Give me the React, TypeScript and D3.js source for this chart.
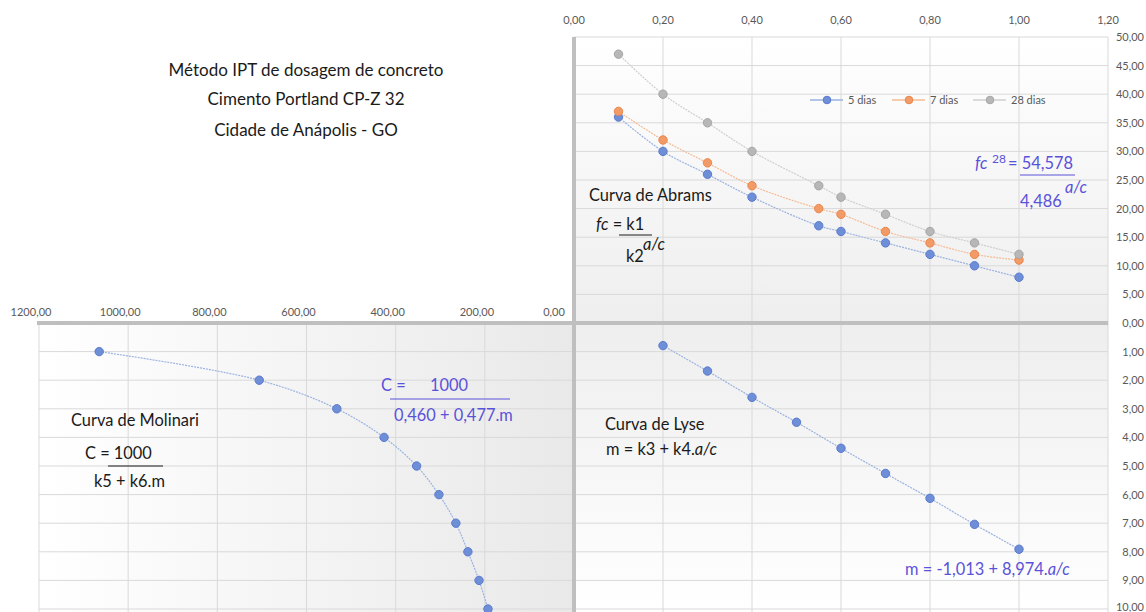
import React from 'react';
import * as d3 from 'd3';

// a/c ratios of the Abrams curves
const acValues = [0.1, 0.2, 0.3, 0.4, 0.55, 0.6, 0.7, 0.8, 0.9, 1.0];
const fc5 = [36, 30, 26, 22, 17, 16, 14, 12, 10, 8];
const fc7 = [37, 32, 28, 24, 20, 19, 16, 14, 12, 11];
const fc28 = [47, 40, 35, 30, 24, 22, 19, 16, 14, 12];

// Lyse: m vs a/c
const lyseAc = [0.2, 0.3, 0.4, 0.5, 0.6, 0.7, 0.8, 0.9, 1.0];
const lyseM = [0.79, 1.68, 2.6, 3.47, 4.38, 5.26, 6.13, 7.04, 7.91];

// Molinari: C vs m
const moliM = [1, 2, 3, 4, 5, 6, 7, 8, 9, 10];
const moliC = [1065, 706, 532, 426, 353, 303, 265, 238, 213, 193];

const acTicks = [0, 0.2, 0.4, 0.6, 0.8, 1.0, 1.2];
const fcTicks = [5, 10, 15, 20, 25, 30, 35, 40, 45, 50];
const mTicks = [0, 1, 2, 3, 4, 5, 6, 7, 8, 9, 10];
const cTicks = [0, 200, 400, 600, 800, 1000, 1200];

const titleLines = ['Método IPT de dosagem de concreto', 'Cimento Portland CP-Z 32', 'Cidade de Anápolis - GO'];

const series = [
  { name: '5 dias', values: fc5, line: '#9bb3e0', fill: '#6e8ed8', stroke: '#5a7bcc' },
  { name: '7 dias', values: fc7, line: '#f5bb95', fill: '#f29b66', stroke: '#e8864c' },
  { name: '28 dias', values: fc28, line: '#cfcfcf', fill: '#b7b7b7', stroke: '#a5a5a5' },
];

const W = 1146;
const H = 612;
const FONT = 'Lato, "Open Sans", sans-serif';
const BLUE = '#5a52d9';
const GRID = '#d9d9d9';
const LABEL = '#595959';
const FS = 16.4;

const fmt = (v: number) => d3.format('.2f')(v).replace('.', ',');

export default function App() {
  const x = d3.scaleLinear().domain([0, 1.2]).range([574, 1108]);
  const yFc = d3.scaleLinear().domain([0, 50]).range([323, 37]);
  const yM = d3.scaleLinear().domain([0, 10]).range([323, 609]);
  const xC = d3.scaleLinear().domain([0, 1200]).range([574, 39]);

  const curve = d3.line<[number, number]>().curve(d3.curveCatmullRom.alpha(0.5));

  const dot = (cx: number, cy: number, s: any, key: any) => (
    <circle key={key} cx={cx} cy={cy} r={4.2} fill={s.fill} stroke={s.stroke} strokeWidth={1} />
  );

  const blueS = series[0];

  return (
    <svg width={W} height={H} style={{ position: 'absolute', left: 0, top: 0, background: '#fff' }} fontFamily={FONT}>
      <defs>
        <linearGradient id="gTop" x1="0" y1="0" x2="0" y2="1">
          <stop offset="0" stopColor="#ffffff" />
          <stop offset="1" stopColor="#eeeeee" />
        </linearGradient>
        <linearGradient id="gBot" x1="0" y1="0" x2="0" y2="1">
          <stop offset="0" stopColor="#eeeeee" />
          <stop offset="1" stopColor="#ffffff" />
        </linearGradient>
        <linearGradient id="gLeft" x1="0" y1="0" x2="1" y2="0">
          <stop offset="0" stopColor="#ffffff" />
          <stop offset="1" stopColor="#e9e9e9" />
        </linearGradient>
      </defs>

      {/* backgrounds */}
      <rect x={x(0)} y={yFc(50)} width={x(1.2) - x(0)} height={yFc(0) - yFc(50)} fill="url(#gTop)" />
      <rect x={x(0)} y={yM(0)} width={x(1.2) - x(0)} height={H - yM(0)} fill="url(#gBot)" />
      <rect x={xC(1200)} y={yM(0)} width={xC(0) - xC(1200)} height={H - yM(0)} fill="url(#gLeft)" />

      {/* grid top-right */}
      {acTicks.slice(1).map((t) => (
        <line key={'tv' + t} x1={x(t)} x2={x(t)} y1={yFc(50)} y2={yFc(0)} stroke={GRID} />
      ))}
      {fcTicks.map((t) => (
        <line key={'th' + t} x1={x(0)} x2={x(1.2)} y1={yFc(t)} y2={yFc(t)} stroke={GRID} />
      ))}
      {/* grid bottom-right */}
      {acTicks.slice(1).map((t) => (
        <line key={'bv' + t} x1={x(t)} x2={x(t)} y1={yM(0)} y2={H} stroke={GRID} />
      ))}
      {mTicks.slice(1).map((t) => (
        <line key={'bh' + t} x1={x(0)} x2={x(1.2)} y1={yM(t)} y2={yM(t)} stroke={GRID} />
      ))}
      {/* grid bottom-left */}
      {cTicks.slice(1).map((t) => (
        <line key={'lv' + t} x1={xC(t)} x2={xC(t)} y1={yM(0)} y2={H} stroke={GRID} />
      ))}
      {mTicks.slice(1).map((t) => (
        <line key={'lh' + t} x1={xC(1200)} x2={xC(0)} y1={yM(t)} y2={yM(t)} stroke={GRID} />
      ))}

      {/* thick cross axes */}
      <line x1={xC(1200) - 2} x2={x(1.2)} y1={yM(0)} y2={yM(0)} stroke="#bfbfbf" strokeWidth={4} />
      <line x1={x(0)} x2={x(0)} y1={yFc(50)} y2={H} stroke="#bfbfbf" strokeWidth={4} />

      {/* axis labels */}
      {acTicks.map((t) => (
        <text key={'al' + t} x={x(t)} y={24} textAnchor="middle" fontSize={11} fill={LABEL}>{fmt(t)}</text>
      ))}
      {fcTicks.map((t) => (
        <text key={'fl' + t} x={1144} y={yFc(t) + 4} textAnchor="end" fontSize={11} fill={LABEL}>{fmt(t)}</text>
      ))}
      {mTicks.map((t) => (
        <text key={'ml' + t} x={1144} y={Math.min(yM(t) + 4, 611)} textAnchor="end" fontSize={11} fill={LABEL}>{fmt(t)}</text>
      ))}
      {cTicks.map((t) => (
        <text key={'cl' + t} x={xC(t) - (t === 0 ? 20 : 8)} y={316} textAnchor="middle" fontSize={11} fill={LABEL}>{fmt(t)}</text>
      ))}

      {/* Abrams curves */}
      {series.map((s) => (
        <g key={s.name}>
          <path
            d={curve(acValues.map((a, i) => [x(a), yFc(s.values[i])]))!}
            fill="none"
            stroke={s.line}
            strokeWidth={1.2}
            strokeDasharray="2 1"
          />
          {acValues.map((a, i) => dot(x(a), yFc(s.values[i]), s, i))}
        </g>
      ))}

      {/* legend */}
      {series.map((s, i) => {
        const lx = [810, 892, 973][i];
        return (
          <g key={'lg' + s.name}>
            <line x1={lx} x2={lx + 33} y1={100} y2={100} stroke={s.line} strokeWidth={1.5} />
            <circle cx={lx + 17} cy={100} r={3.8} fill={s.fill} stroke={s.stroke} />
            <text x={lx + 38} y={104} fontSize={11} fill={LABEL}>{s.name}</text>
          </g>
        );
      })}

      {/* Lyse */}
      <path
        d={curve(lyseAc.map((a, i) => [x(a), yM(lyseM[i])]))!}
        fill="none"
        stroke={blueS.line}
        strokeWidth={1.2}
        strokeDasharray="2 1"
      />
      {lyseAc.map((a, i) => dot(x(a), yM(lyseM[i]), blueS, 'ly' + i))}

      {/* Molinari */}
      <path
        d={curve(moliM.map((m, i) => [xC(moliC[i]), yM(m)]))!}
        fill="none"
        stroke={blueS.line}
        strokeWidth={1.2}
        strokeDasharray="2 1"
      />
      {moliM.map((m, i) => dot(xC(moliC[i]), yM(m), blueS, 'mo' + i))}

      {/* title */}
      {titleLines.map((t, i) => (
        <text key={t} x={306} y={[76, 105, 136][i]} textAnchor="middle" fontSize={FS + 0.6} fill="#1a1a1a">{t}</text>
      ))}

      {/* Abrams annotation */}
      <g fontSize={FS} fill="#1a1a1a">
        <text x={589} y={201}>Curva de Abrams</text>
        <text x={596} y={230}><tspan fontStyle="italic">fc</tspan> = k1</text>
        <line x1={619} x2={652} y1={235} y2={235} stroke="#1a1a1a" strokeWidth={1} />
        <text x={626} y={262}>k2</text>
        <text x={643} y={250} fontStyle="italic">a/c</text>
      </g>
      <g fontSize={FS} fill={BLUE}>
        <text x={975} y={169}><tspan fontStyle="italic">fc</tspan></text>
        <text x={992} y={163} fontSize={12}>28</text>
        <text x={1008} y={169}>= 54,578</text>
        <line x1={1020} x2={1075} y1={175} y2={175} stroke={BLUE} strokeWidth={1} />
        <text x={1065} y={193} fontStyle="italic">a/c</text>
        <text x={1020} y={207}>4,486</text>
      </g>

      {/* Molinari annotation */}
      <g fontSize={FS} fill="#1a1a1a">
        <text x={71} y={426}>Curva de Molinari</text>
        <text x={85} y={459}>C = 1000</text>
        <line x1={108} x2={163} y1={466} y2={466} stroke="#1a1a1a" strokeWidth={1} />
        <text x={94} y={487}>k5 + k6.m</text>
      </g>
      <g fontSize={FS} fill={BLUE}>
        <text x={381} y={391}>C =</text>
        <text x={430} y={391}>1000</text>
        <line x1={390} x2={510} y1={399} y2={399} stroke={BLUE} strokeWidth={1} />
        <text x={394} y={421}>0,460 + 0,477.m</text>
      </g>

      {/* Lyse annotation */}
      <g fontSize={FS} fill="#1a1a1a">
        <text x={605} y={430}>Curva de Lyse</text>
        <text x={606} y={455}>m = k3 + k4.<tspan fontStyle="italic">a/c</tspan></text>
      </g>
      <text x={905} y={575} fontSize={FS} fill={BLUE}>m = -1,013 + 8,974.<tspan fontStyle="italic">a/c</tspan></text>
    </svg>
  );
}
